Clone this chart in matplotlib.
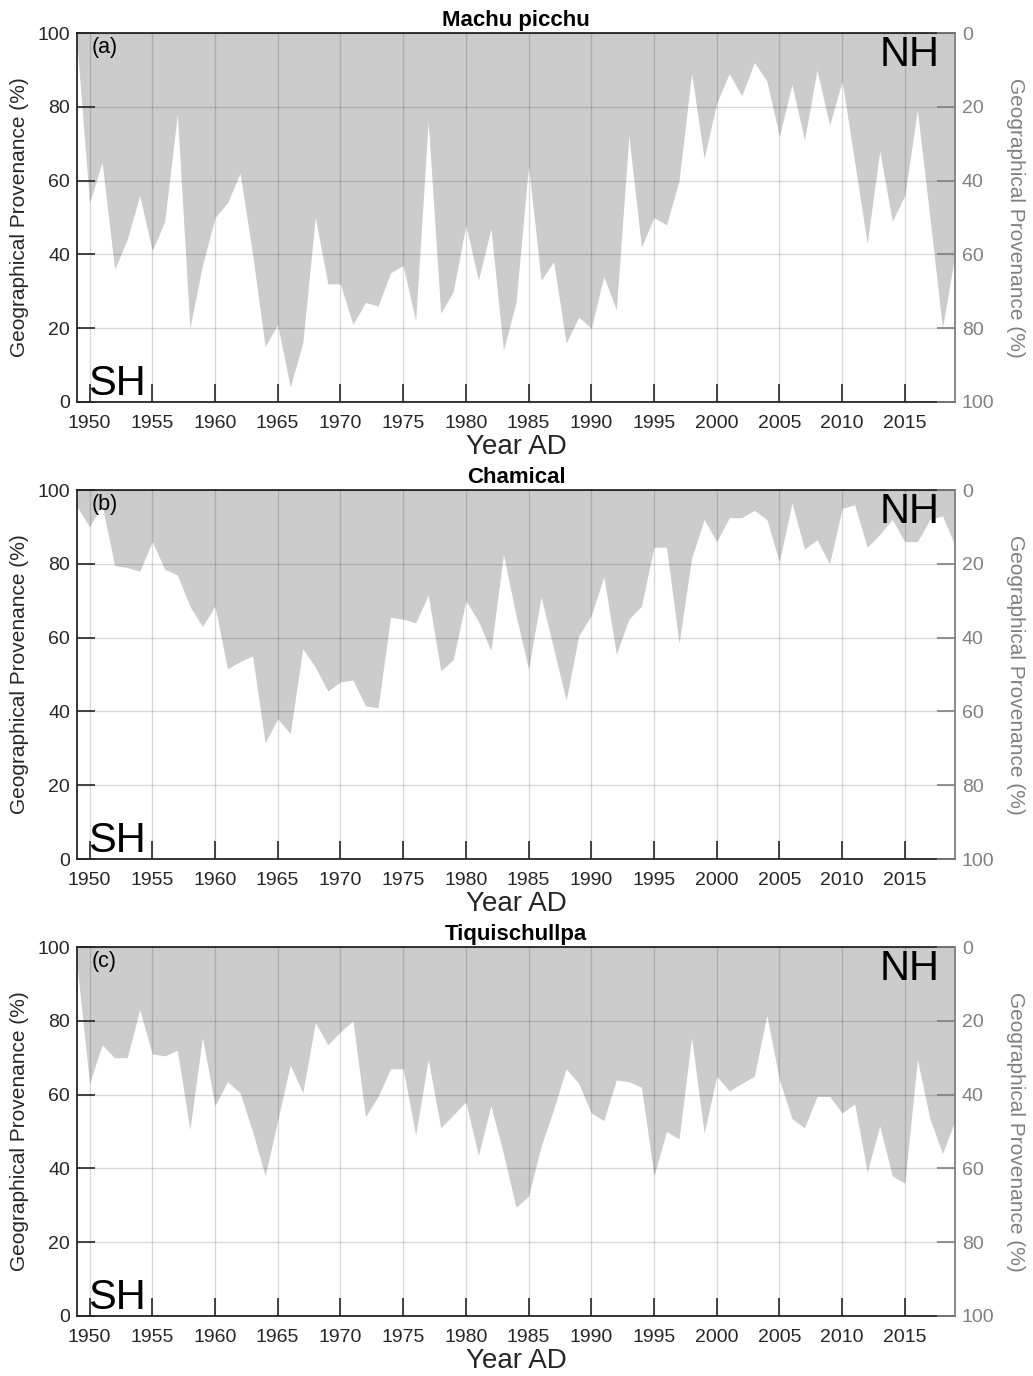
import numpy as np
import matplotlib.pyplot as plt

plt.rcParams["font.family"] = ["Liberation Sans", "DejaVu Sans"]

years = np.arange(1949, 2020)

machu_picchu = [
    97, 54, 65, 36, 44, 56, 41, 49, 78, 20,
    37, 50, 54, 62, 40, 15, 21, 4, 16, 50,
    32, 32, 21, 27, 26, 35, 37, 22, 76, 24,
    30, 48, 33, 47, 14, 27, 64, 33, 38, 16,
    23, 20, 34, 25, 72, 42, 50, 48, 60, 89,
    66, 81, 89, 83, 92, 87, 72, 86, 71, 90,
    75, 87, 65, 43, 68, 49, 56, 79, 50, 20,
    40,
]
chamical = [
    95.5, 90, 96, 79.5, 79, 78, 86, 78.5, 77, 68.5,
    63, 68.5, 51.5, 53.5, 55, 31.5, 38, 34, 57, 52,
    45.5, 48, 48.5, 41.5, 41, 65.5, 65, 64, 71.5, 51,
    54, 70, 64.5, 56.5, 82.5, 66, 51.5, 71, 57, 43,
    60.5, 66, 76.5, 55.5, 65, 68.5, 84.5, 84.5, 58.5, 81.5,
    92, 86, 92.5, 92.5, 94.5, 92, 80.5, 96.5, 84, 86.5,
    80, 95, 96, 84.5, 88, 92, 86, 86, 92, 93,
    85,
]
tiquischullpa = [
    95, 63, 73.5, 70, 70, 83, 71, 70.5, 72, 50.5,
    75.5, 57, 63.5, 60.5, 50, 38, 53, 68, 60.5, 79.5,
    73.5, 77, 80, 54, 59.5, 67, 67, 49, 69.5, 51,
    54.5, 58, 43.5, 57, 44, 29.5, 32.5, 46, 56, 67,
    63, 55, 53, 64, 63.5, 62, 38, 50, 48, 75.5,
    49.5, 65, 61, 63, 65, 81.5, 64, 53.5, 51, 59.5,
    59.5, 55, 57.5, 39, 51.5, 38, 36, 69.5, 53.5, 44,
    53,
]

sites = ["Machu picchu", "Chamical", "Tiquischullpa"]
panel_tags = ["(a)", "(b)", "(c)"]
series = [machu_picchu, chamical, tiquischullpa]

dark = "#262626"
grey_txt = "#808080"
fill_c = "#cccccc"

fig = plt.figure(figsize=(10.33, 13.76), dpi=100)
W, H = 1033, 1376
left, right = 77, 955
tops = [33, 490, 947]
ph = 369

for i, (name, tag, vals) in enumerate(zip(sites, panel_tags, series)):
    ax = fig.add_axes([left / W, 1 - (tops[i] + ph) / H, (right - left) / W, ph / H])
    ax.fill_between(years, vals, 100, color=fill_c, lw=0)
    ax.set_xlim(1949, 2019)
    ax.set_ylim(0, 100)
    ax.set_xticks(np.arange(1950, 2016, 5))
    ax.set_yticks(np.arange(0, 101, 20))
    ax.set_axisbelow(False)
    ax.grid(True, color="k", alpha=0.15, lw=1)
    ax.tick_params(direction="in", length=13, width=1.2, colors=dark,
                   labelsize=14, top=False, right=False)
    ax.tick_params(axis="x", pad=9)
    ax.tick_params(axis="y", pad=5)
    for s in ["left", "bottom", "top"]:
        ax.spines[s].set_color(dark)
        ax.spines[s].set_linewidth(1.3)
    ax.spines["right"].set_visible(False)
    ax.set_ylabel("Geographical Provenance (%)", fontsize=15, color=dark, labelpad=6)
    ax.set_xlabel("Year AD", fontsize=20, color=dark, labelpad=2)
    ax.set_title(name, fontsize=16, fontweight="bold", color="k", pad=5)

    ax.text(0.017, 0.962, tag, transform=ax.transAxes, fontsize=15.5,
            ha="left", va="center", color="k")
    ax.text(0.983, 0.995, "NH", transform=ax.transAxes, fontsize=30,
            ha="right", va="top", color="k")
    ax.text(0.013, 0.02, "SH", transform=ax.transAxes, fontsize=30,
            ha="left", va="baseline", color="k")

    ax2 = ax.twinx()
    ax2.set_ylim(100, 0)
    ax2.set_yticks(np.arange(0, 101, 20))
    ax2.tick_params(direction="in", length=13, width=1.2, colors=grey_txt,
                    labelsize=14, pad=5)
    for s in ["left", "bottom", "top"]:
        ax2.spines[s].set_visible(False)
    ax2.spines["right"].set_color(grey_txt)
    ax2.spines["right"].set_linewidth(1.3)
    ax2.set_ylabel("Geographical Provenance (%)", fontsize=15, color=grey_txt,
                   rotation=-90, va="bottom", labelpad=8)

fig.savefig("out.png", dpi=100)
